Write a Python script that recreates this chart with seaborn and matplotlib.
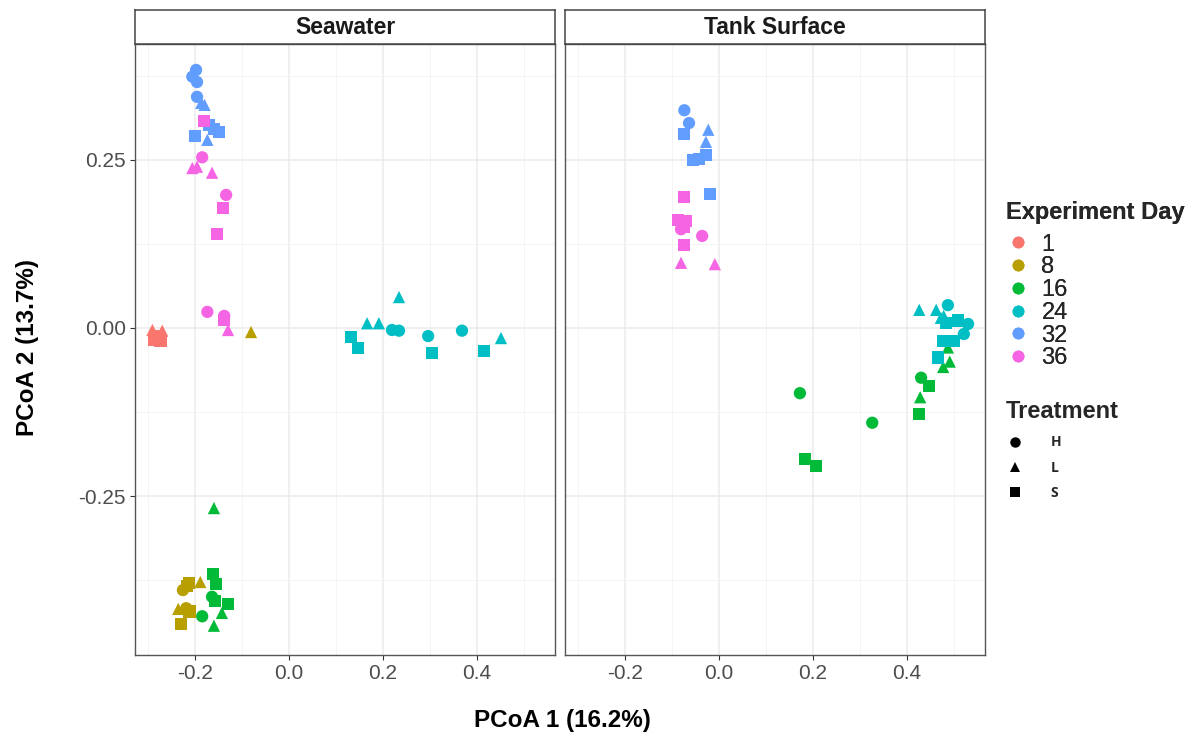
import numpy as np
import pandas as pd
import matplotlib
matplotlib.use("Agg")
import matplotlib.pyplot as plt
import seaborn as sns
from matplotlib.lines import Line2D
from matplotlib.ticker import FuncFormatter

# ---------------- data ----------------
days = ["1", "8", "16", "24", "32", "36"]
day_colors = ["#F8766D", "#B79F00", "#00BA38", "#00BFC4", "#619CFF", "#F564E3"]
treatments = ["H", "L", "S"]
treatment_markers = {"H": "o", "L": "^", "S": "s"}
panels = ["Seawater", "Tank Surface"]

sea_x = [-0.291, -0.270, -0.287, -0.274, -0.281, -0.278,
         -0.081, -0.213, -0.189, -0.226, -0.217, -0.236, -0.219, -0.212, -0.230,
         -0.160, -0.162, -0.155, -0.164, -0.158, -0.130, -0.143, -0.185, -0.160,
         0.132, 0.147, 0.166, 0.191, 0.234, 0.219, 0.234, 0.296, 0.304, 0.368, 0.415, 0.451,
         -0.198, -0.206, -0.196, -0.196, -0.187, -0.180, -0.170, -0.149, -0.200, -0.174, -0.160,
         -0.181, -0.185, -0.206, -0.196, -0.164, -0.134, -0.140, -0.153, -0.174, -0.138, -0.138, -0.130]
sea_y = [-0.003, -0.004, -0.018, -0.019, -0.012, -0.016,
         -0.006, -0.379, -0.378, -0.390, -0.384, -0.418, -0.417, -0.422, -0.440,
         -0.268, -0.366, -0.381, -0.400, -0.406, -0.411, -0.424, -0.429, -0.443,
         -0.013, -0.030, 0.007, 0.007, 0.046, -0.003, -0.004, -0.012, -0.037, -0.004, -0.034, -0.015,
         0.384, 0.374, 0.366, 0.344, 0.335, 0.332, 0.302, 0.292, 0.286, 0.280, 0.296,
         0.308, 0.254, 0.238, 0.240, 0.231, 0.198, 0.179, 0.140, 0.024, 0.018, 0.012, -0.003]
sea_day = ["1"] * 6 + ["8"] * 9 + ["16"] * 9 + ["24"] * 12 + ["32"] * 11 + ["36"] * 12
sea_trt = ["L", "L", "S", "S", "H", "H",
           "L", "S", "L", "H", "S", "L", "H", "S", "S",
           "L", "S", "S", "H", "S", "S", "L", "H", "L",
           "S", "S", "L", "L", "L", "H", "H", "H", "S", "H", "S", "L",
           "H", "H", "H", "H", "L", "L", "S", "S", "S", "L", "S",
           "S", "H", "L", "L", "L", "H", "S", "S", "H", "H", "S", "L"]

tank_x = [-0.074, -0.064, -0.074, -0.023, -0.028, -0.055, -0.043, -0.028, -0.019,
          -0.074, -0.087, -0.079, -0.071, -0.081, -0.075, -0.036, -0.074, -0.081, -0.009,
          0.172, 0.326, 0.183, 0.206, 0.426, 0.428, 0.430, 0.447, 0.477, 0.491, 0.487,
          0.426, 0.462, 0.487, 0.472, 0.483, 0.509, 0.530, 0.521, 0.500, 0.477, 0.466, 0.478]
tank_y = [0.324, 0.305, 0.289, 0.295, 0.277, 0.250, 0.252, 0.257, 0.199,
          0.195, 0.161, 0.156, 0.159, 0.147, 0.151, 0.137, 0.124, 0.097, 0.095,
          -0.097, -0.141, -0.195, -0.205, -0.128, -0.103, -0.074, -0.086, -0.058, -0.050, -0.029,
          0.027, 0.027, 0.034, 0.015, 0.007, 0.011, 0.006, -0.009, -0.019, -0.019, -0.044, 0.018]
tank_day = ["32"] * 9 + ["36"] * 10 + ["16"] * 11 + ["24"] * 12
tank_trt = ["H", "H", "S", "L", "L", "S", "S", "S", "S",
            "S", "S", "H", "S", "H", "S", "H", "S", "L", "L",
            "H", "H", "S", "S", "S", "L", "H", "S", "L", "L", "L",
            "L", "L", "H", "L", "S", "S", "H", "H", "S", "S", "S", "L"]

x_ticks = [-0.2, 0.0, 0.2, 0.4]
y_ticks = [-0.25, 0.0, 0.25]

# ---------------- style ----------------
sns.set_theme(style="white")
plt.rcParams["font.family"] = ["Liberation Sans", "DejaVu Sans"]
plt.rcParams["axes.unicode_minus"] = False

W, H = 1200, 749
fig = plt.figure(figsize=(W / 100, H / 100), dpi=100)


def fr(l, t, r, b):
    return [l / W, 1 - b / H, (r - l) / W, (b - t) / H]


frames = [
    pd.DataFrame({"x": sea_x, "y": sea_y, "day": sea_day, "trt": sea_trt}),
    pd.DataFrame({"x": tank_x, "y": tank_y, "day": tank_day, "trt": tank_trt}),
]
boxes = [(135, 44, 555, 655), (565, 44, 985, 655)]
xlim = (-0.328, 0.566)
ylim = (-0.4866, 0.4226)

for i, (df, box, title) in enumerate(zip(frames, boxes, panels)):
    ax = fig.add_axes(fr(*box))
    ax.set_facecolor("white")
    sns.scatterplot(data=df, x="x", y="y", hue="day", hue_order=days,
                    palette=day_colors, style="trt", style_order=treatments,
                    markers=treatment_markers, s=78, linewidth=0,
                    legend=False, ax=ax, zorder=3)
    ax.set_xlim(*xlim)
    ax.set_ylim(*ylim)
    ax.set_xticks(x_ticks)
    ax.set_xticks([-0.3, -0.1, 0.1, 0.3, 0.5], minor=True)
    ax.set_yticks(y_ticks)
    ax.set_yticks([-0.375, -0.125, 0.125, 0.375], minor=True)
    ax.grid(which="major", color="#EBEBEB", lw=1.1, zorder=0)
    ax.grid(which="minor", color="#F3F3F3", lw=0.6, zorder=0)
    ax.set_axisbelow(True)
    ax.xaxis.set_major_formatter(FuncFormatter(lambda v, p: f"{v:.1f}"))
    ax.yaxis.set_major_formatter(FuncFormatter(lambda v, p: f"{v:.2f}"))
    ax.tick_params(which="major", length=3.5, width=0.8, color="#333333",
                   labelsize=15, labelcolor="#4D4D4D", pad=3,
                   bottom=True, left=(i == 0), labelleft=(i == 0))
    ax.tick_params(which="minor", length=0)
    for s in ax.spines.values():
        s.set_color("#555555")
        s.set_linewidth(1.0)
    ax.set_xlabel("")
    ax.set_ylabel("")
    # strip
    l, t, r, b = box
    strip = fig.add_axes(fr(l, 10, r, 44))
    strip.set_xticks([])
    strip.set_yticks([])
    strip.set_facecolor("white")
    for s in strip.spines.values():
        s.set_color("#444444")
        s.set_linewidth(1.1)
    strip.text(0.5, 0.5, title, ha="center", va="center", fontsize=16.5,
               fontweight="bold", color="#1A1A1A", transform=strip.transAxes)

fig.text(562 / W, 1 - 720 / H, "PCoA 1 (16.2%)", ha="center", va="center",
         fontsize=17.5, fontweight="bold", color="black")
fig.text(28 / W, 1 - 348 / H, "PCoA 2 (13.7%)", ha="center", va="center",
         rotation=90, fontsize=17.5, fontweight="bold", color="black")

# legends
day_handles = [Line2D([], [], marker="o", ls="", color=c, markeredgewidth=0,
                      markersize=8.5) for c in day_colors]
leg1 = fig.legend(day_handles, days, title="Experiment Day", loc="upper left",
                  bbox_to_anchor=(1006 / W, 1 - 201 / H), frameon=False,
                  fontsize=17, title_fontproperties={"weight": "bold", "size": 17},
                  labelspacing=0.03, handletextpad=0.5, handlelength=1.0,
                  borderpad=0, borderaxespad=0, alignment="left")
leg1._legend_box.sep = 7
fig.add_artist(leg1)

trt_handles = [Line2D([], [], marker=treatment_markers[t], ls="", color="black",
                      markeredgewidth=0, markersize=7.5) for t in treatments]
leg2 = fig.legend(trt_handles, treatments, title="Treatment", loc="upper left",
                  bbox_to_anchor=(1006 / W, 1 - 400 / H), frameon=False,
                  prop={"weight": "bold", "size": 10, "family": ["Open Sans", "DejaVu Sans"]},
                  title_fontproperties={"weight": "bold", "size": 17},
                  labelspacing=0.8, handletextpad=1.9, handlelength=1.3,
                  borderpad=0, borderaxespad=0, alignment="left")
leg2._legend_box.sep = 9

fig.savefig("out.png", dpi=100, facecolor="white")
